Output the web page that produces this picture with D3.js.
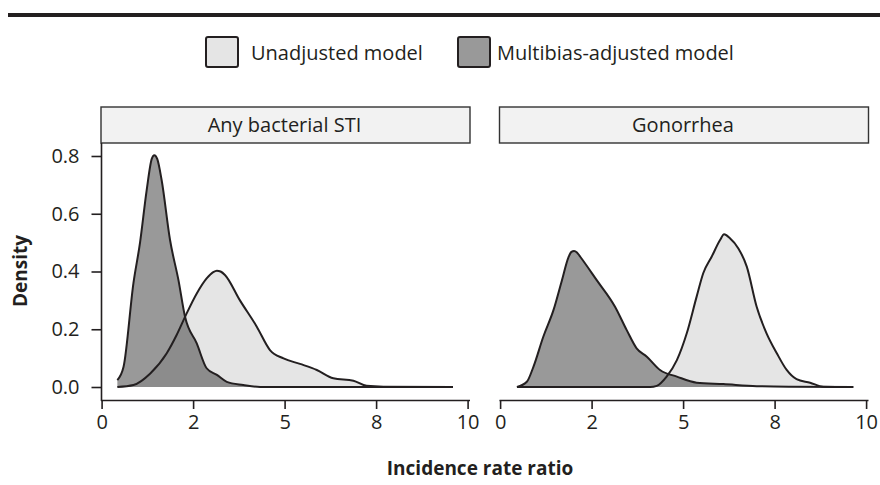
<!DOCTYPE html>
<html>
<head>
<meta charset="utf-8">
<script src="https://cdn.jsdelivr.net/npm/d3@7"></script>
<style>
  html, body { margin: 0; padding: 0; background: #fff; }
  svg { display: block; font-family: "Open Sans", "Noto Sans", sans-serif; }
</style>
</head>
<body>
<svg id="chart" width="880" height="485"></svg>
<script>
// ---------------- data ----------------
const panels = ["Any bacterial STI", "Gonorrhea"];
const seriesNames = ["Unadjusted model", "Multibias-adjusted model"];

const xTicks = [0, 2.5, 5, 7.5, 10];
const xTickLabels = ["0", "2", "5", "8", "10"];
const yTicks = [0, 0.2, 0.4, 0.6, 0.8];
const yTickLabels = ["0.0", "0.2", "0.4", "0.6", "0.8"];

// Panel 1: Any bacterial STI
const stiUnadjX = [0.43, 0.87, 1.33, 1.78, 2.05, 2.28, 2.60, 2.87, 3.05, 3.15, 3.25, 3.37, 3.78, 4.24, 4.60, 4.97, 5.42, 5.88, 6.33, 6.88, 7.24, 7.70, 9.60];
const stiUnadjY = [0.000, 0.007, 0.047, 0.117, 0.180, 0.243, 0.324, 0.376, 0.398, 0.403, 0.400, 0.388, 0.300, 0.209, 0.128, 0.099, 0.080, 0.059, 0.030, 0.022, 0.004, 0.001, 0.000];
const stiAdjX = [0.43, 0.60, 0.87, 1.05, 1.23, 1.37, 1.44, 1.52, 1.64, 1.87, 2.10, 2.28, 2.60, 2.87, 3.15, 3.42, 3.87, 4.33, 9.60];
const stiAdjY = [0.024, 0.070, 0.360, 0.500, 0.680, 0.790, 0.803, 0.790, 0.717, 0.509, 0.370, 0.243, 0.151, 0.065, 0.042, 0.018, 0.007, 0.000, 0.000];

// Panel 2: Gonorrhea
const gonUnadjX = [0.46, 4.10, 4.28, 4.55, 4.83, 5.10, 5.37, 5.55, 5.78, 6.01, 6.12, 6.28, 6.51, 6.74, 7.01, 7.28, 7.56, 7.83, 8.10, 8.47, 8.83, 9.65];
const gonUnadjY = [0.000, 0.000, 0.004, 0.036, 0.093, 0.186, 0.313, 0.394, 0.451, 0.509, 0.529, 0.515, 0.480, 0.417, 0.278, 0.186, 0.117, 0.059, 0.027, 0.015, 0.001, 0.000];
const gonAdjX = [0.46, 0.73, 0.91, 1.18, 1.46, 1.69, 1.87, 1.95, 2.02, 2.10, 2.19, 2.64, 3.14, 3.46, 3.73, 4.01, 4.37, 4.83, 5.37, 6.10, 7.01, 7.92, 9.65];
const gonAdjY = [0.000, 0.018, 0.070, 0.174, 0.267, 0.370, 0.450, 0.468, 0.471, 0.466, 0.451, 0.370, 0.278, 0.197, 0.134, 0.105, 0.059, 0.036, 0.015, 0.010, 0.003, 0.001, 0.000];

// ---------------- build ----------------
const zip = (xs, ys) => xs.map((x, i) => ({ x, y: ys[i] }));
const panelData = [
  { name: panels[0], series: [zip(stiUnadjX, stiUnadjY), zip(stiAdjX, stiAdjY)] },
  { name: panels[1], series: [zip(gonUnadjX, gonUnadjY), zip(gonAdjX, gonAdjY)] }
];

const fills = ["#cccccc", "#333333"];
const fillOpacity = 0.5;
const ink = "#231f20";

const svg = d3.select("#chart");

// top rule (remnant of page header)
svg.append("rect").attr("x", 8).attr("y", 13).attr("width", 872).attr("height", 4).attr("fill", ink);

// legend
const legend = svg.append("g").attr("class", "legend");
const legendPos = [{ bx: 205, tx: 251 }, { bx: 457, tx: 497 }];
seriesNames.forEach((s, i) => {
  const g = legend.append("g");
  g.append("rect").attr("x", legendPos[i].bx + 1).attr("y", 37).attr("width", 32).attr("height", 30)
    .attr("rx", 2).attr("fill", "#fff").attr("stroke", "none");
  g.append("rect").attr("x", legendPos[i].bx + 1).attr("y", 37).attr("width", 32).attr("height", 30)
    .attr("rx", 2).attr("fill", fills[i]).attr("fill-opacity", fillOpacity)
    .attr("stroke", ink).attr("stroke-width", 2);
  g.append("text").attr("x", legendPos[i].tx).attr("y", 60)
    .attr("font-size", 20).attr("fill", ink).text(s);
});

const panelLeft = [101, 499.5];
const panelW = 369;
const stripTop = 107, stripBottom = 143, plotBottom = 400;

const y = d3.scaleLinear().domain([-0.045, 0.845]).range([plotBottom, stripBottom]);

panelData.forEach((p, pi) => {
  const left = panelLeft[pi];
  const x = d3.scaleLinear().domain([0, 10]).range([left + 0.6, left + 366.6]);
  const g = svg.append("g");

  // strip
  g.append("rect").attr("x", left).attr("y", stripTop).attr("width", panelW).attr("height", stripBottom - stripTop)
    .attr("fill", "#f2f2f2").attr("stroke", "#333").attr("stroke-width", 1.4);
  g.append("text").attr("x", left + panelW / 2 - 1).attr("y", 132).attr("text-anchor", "middle")
    .attr("font-size", 20).attr("fill", ink).text(p.name);

  const area = d3.area().x(d => x(d.x)).y0(y(0)).y1(d => y(d.y)).curve(d3.curveMonotoneX);
  const line = d3.line().x(d => x(d.x)).y(d => y(d.y)).curve(d3.curveMonotoneX);

  p.series.forEach((s, si) => {
    g.append("path").datum(s).attr("d", area).attr("fill", fills[si]).attr("fill-opacity", fillOpacity);
  });
  p.series.forEach((s) => {
    g.append("path").datum(s).attr("d", line).attr("fill", "none").attr("stroke", ink)
      .attr("stroke-width", 2).attr("stroke-linejoin", "round");
  });

  // x axis
  const xAxis = d3.axisBottom(x).tickValues(xTicks).tickFormat((d, i) => xTickLabels[i])
    .tickSize(9).tickPadding(6).tickSizeOuter(0);
  const ax = g.append("g").attr("transform", `translate(0,${plotBottom})`).call(xAxis);
  ax.select(".domain").attr("d", `M${left},0.5H${left + panelW}`).attr("stroke", ink).attr("stroke-width", 1.6);
  ax.selectAll(".tick line").attr("stroke", ink).attr("stroke-width", 1.6);
  ax.selectAll(".tick text").attr("font-size", 20).attr("fill", ink).attr("font-family", "Open Sans");

  if (pi === 0) {
    const yAxis = d3.axisLeft(y).tickValues(yTicks).tickFormat((d, i) => yTickLabels[i])
      .tickSize(10).tickPadding(12).tickSizeOuter(0);
    const ay = g.append("g").attr("transform", `translate(${left + 0.5},0)`).call(yAxis);
    ay.select(".domain").attr("d", `M0,${stripBottom}V${plotBottom + 1}`).attr("stroke", ink).attr("stroke-width", 1.6);
    ay.selectAll(".tick line").attr("stroke", ink).attr("stroke-width", 1.6);
    ay.selectAll(".tick text").attr("font-size", 20).attr("fill", ink).attr("font-family", "Open Sans");
  }
});

// axis titles
svg.append("text").attr("x", 480).attr("y", 475).attr("text-anchor", "middle")
  .attr("font-size", 19).attr("font-weight", "bold").attr("fill", ink).text("Incidence rate ratio");
svg.append("text").attr("transform", "translate(27,271) rotate(-90)").attr("text-anchor", "middle")
  .attr("font-size", 19).attr("font-weight", "bold").attr("fill", ink).text("Density");
</script>
</body>
</html>
